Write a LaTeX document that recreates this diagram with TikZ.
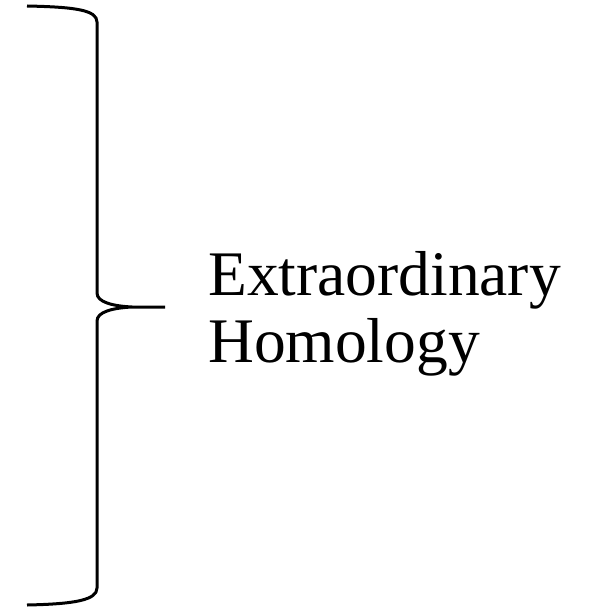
\documentclass[tikz,border=0pt]{standalone}
\usepackage{fontspec}
\setmainfont{Liberation Serif}
\usetikzlibrary{positioning}

\begin{document}
\begin{tikzpicture}[
    x=1bp, y=-1bp,
    brace/.style={line width=3bp, line cap=butt, line join=round},
    label/.style={font=\fontsize{63.5bp}{67bp}\selectfont, align=left, inner sep=0pt}
]
\useasboundingbox (0,0) rectangle (590,607);

% Brace
\coordinate (top) at (27,6);
\coordinate (tip) at (165,307);
\coordinate (bottom) at (27,605);
\draw[brace] (top) .. controls (75,7) and (97,10) .. (97,22)
    -- (97,293) .. controls (97,302) and (112,306) .. (132,307) -- (tip)
    (132,307) .. controls (112,308) and (97,312) .. (97,321)
    -- (97,588) .. controls (97,600) and (75,604) .. (bottom);

% Label
\node[label, anchor=base west] (extra) at (208,362) {Extraordinary\\Homology};

\end{tikzpicture}
\end{document}
